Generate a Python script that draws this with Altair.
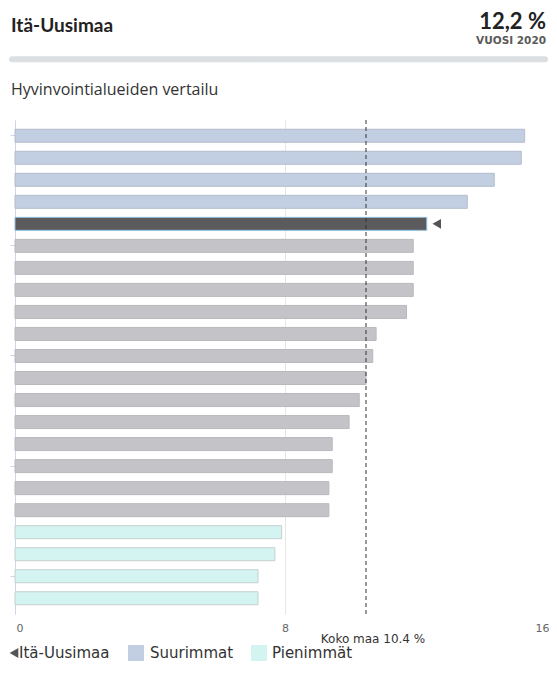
import altair as alt
import pandas as pd

# ---- data ----
areas = ["Alue 1", "Alue 2", "Alue 3", "Alue 4", "Itä-Uusimaa",
         "Alue 6", "Alue 7", "Alue 8", "Alue 9", "Alue 10", "Alue 11",
         "Alue 12", "Alue 13", "Alue 14", "Alue 15", "Alue 16", "Alue 17",
         "Alue 18", "Alue 19", "Alue 20", "Alue 21", "Alue 22"]
values = [15.1, 15.0, 14.2, 13.4, 12.2,
          11.8, 11.8, 11.8, 11.6, 10.7, 10.6,
          10.4, 10.2, 9.9, 9.4, 9.4, 9.3,
          9.3, 7.9, 7.7, 7.2, 7.2]
groups = (["Suurimmat"] * 4 + ["Itä-Uusimaa"] + ["Muut"] * 13 + ["Pienimmät"] * 4)
national = 10.4
highlight = "Itä-Uusimaa"
x_ticks = [0, 8, 16]

df = pd.DataFrame({"alue": areas, "arvo": values, "ryhma": groups})

group_domain = ["Suurimmat", "Itä-Uusimaa", "Muut", "Pienimmät"]
fill_range = ["#c2cfe2", "#5b5b5d", "#c4c4c8", "#d4f4f2"]
stroke_range = ["#b4bccb", "#8fc0dc", "#b9b9bd", "#c4d0d0"]

FONT = "DejaVu Sans"
HFONT = "Lato"

y_enc = alt.Y("alue:N", sort=areas,
              scale=alt.Scale(paddingInner=0.41, paddingOuter=0.42),
              axis=alt.Axis(title=None, labels=False, grid=False,
                            values=[areas[i] for i in (0, 5, 10, 15, 20)],
                            domainColor="#ccd6eb", tickColor="#ccd6eb",
                            tickSize=5, domainWidth=1))
x_scale = alt.Scale(domain=[0, 16], nice=False, range=[0, 540])

x_axis = alt.Axis(
    title=None, values=x_ticks, domain=False, ticks=False,
    gridColor="#e6e6e6", labelColor="#666666",
    labelFontSize=11, labelFont=FONT, labelPadding=8, labelFlush=False,
    labelAlign={"condition": [{"test": "datum.value == 0", "value": "left"},
                              {"test": "datum.value == 16", "value": "right"}],
                "value": "center"},
    labelOffset={"condition": [{"test": "datum.value == 0", "value": 1},
                               {"test": "datum.value == 16", "value": -6}],
                 "value": 0},
)

bars = alt.Chart(df).mark_bar(strokeWidth=1).encode(
    x=alt.X("arvo:Q", scale=x_scale, axis=x_axis),
    y=y_enc,
    color=alt.Color("ryhma:N", scale=alt.Scale(domain=group_domain, range=fill_range), legend=None),
    stroke=alt.Stroke("ryhma:N", scale=alt.Scale(domain=group_domain, range=stroke_range), legend=None),
)

marker = alt.Chart(df).transform_filter(alt.datum.alue == highlight).mark_point(
    shape="triangle-left", filled=True, size=95, color="#555555", opacity=1
).encode(x=alt.X("arvo:Q", scale=x_scale), y=alt.Y("alue:N", sort=areas),
         xOffset=alt.value(10))

nat_df = pd.DataFrame({"arvo": [national], "label": [f"Koko maa {national} %"]})
nat_rule = alt.Chart(nat_df).mark_rule(color="#333333", strokeDash=[4, 3], strokeWidth=1).encode(
    x=alt.X("arvo:Q", scale=x_scale))
nat_text = alt.Chart(nat_df).mark_text(font=FONT, fontSize=12, color="#333333",
                                       align="center", baseline="middle", dx=7).encode(
    x=alt.X("arvo:Q", scale=x_scale), y=alt.value(518.5), text="label:N")

one = alt.Data(values=[{}])


def txt(s, x, y, size, weight="normal", color="#333333", align="left", font=FONT,
        baseline="middle"):
    return alt.Chart(one).mark_text(text=s, font=font, fontSize=size, fontWeight=weight,
                                    color=color, align=align, baseline=baseline).encode(
        x=alt.value(x), y=alt.value(y))


header = [
    txt("Itä-Uusimaa", -4, -88, 19, "bold", "#222222", font=HFONT, baseline="alphabetic"),
    txt("12,2 %", 531, -91, 22, "bold", "#222222", "right", font=HFONT, baseline="alphabetic"),
    txt("VUOSI 2020", 531, -76, 10.5, "bold", "#5a5a5a", "right", font="DejaVu Sans",
        baseline="alphabetic"),
    alt.Chart(one).mark_rule(color="#dcdfe2", strokeWidth=6, strokeCap="round").encode(
        x=alt.value(-3), x2=alt.value(530), y=alt.value(-60.7)),
    txt("Hyvinvointialueiden vertailu", -4, -25, 16, "normal", "#333333", font="Open Sans",
        baseline="alphabetic"),
]

LY = 533
legend = [
    alt.Chart(one).mark_point(shape="triangle-left", filled=True, size=100, color="#555555",
                              opacity=1).encode(x=alt.value(-1), y=alt.value(LY)),
    txt("Itä-Uusimaa", 4, LY, 15, color="#333333"),
    alt.Chart(one).mark_square(size=256, color="#c2cfe2", opacity=1).encode(
        x=alt.value(121), y=alt.value(LY)),
    txt("Suurimmat", 135, LY, 15, color="#333333"),
    alt.Chart(one).mark_square(size=256, color="#d4f4f2", opacity=1).encode(
        x=alt.value(244), y=alt.value(LY)),
    txt("Pienimmät", 257, LY, 15, color="#333333"),
]

chart = alt.layer(bars, nat_rule, marker, nat_text, *header, *legend).properties(
    width=534, height=494,
    autosize=alt.AutoSizeParams(type="none"),
    padding={"left": 7, "top": 112, "right": 0, "bottom": 48},
).configure_view(stroke=None)

chart.save("out.html", embed_options={"renderer": "svg", "actions": False})
